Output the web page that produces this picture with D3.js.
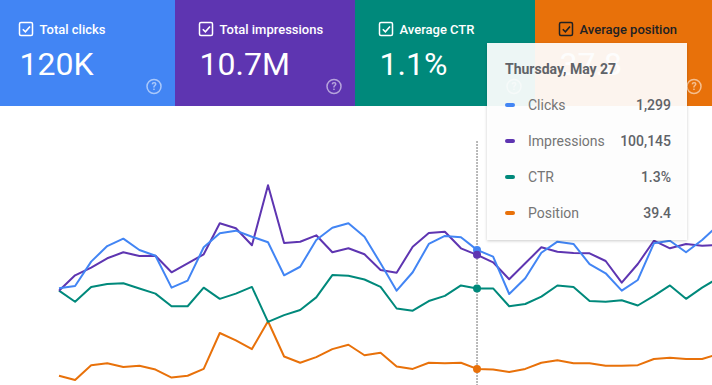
<!DOCTYPE html>
<html>
<head>
<meta charset="utf-8">
<script src="https://cdn.jsdelivr.net/npm/d3@7/dist/d3.min.js"></script>
<style>
  html, body { margin: 0; padding: 0; background: #fff; overflow: hidden; }
  svg { display: block; font-family: Roboto, 'Noto Sans', sans-serif; }
</style>
</head>
<body>
<svg id="chart"></svg>
<script>
const colours = {
  clicks: '#4285f4',
  impressions: '#5e35b1',
  ctr: '#00897b',
  position: '#e8710a',
  tipText: '#5f6368',
  tipLabel: '#757575',
};

const width = 712;
const height = 385;

// summary cards
const cardLabels = ['Total clicks', 'Total impressions', 'Average CTR', 'Average position'];
const cardValues = ['120K', '10.7M', '1.1%', '37.8'];
const cardColours = [colours.clicks, colours.impressions, colours.ctr, colours.position];
const cardLefts = [-5, 175, 355, 535];
const cardWidth = 180;

// daily series, May 1 .. Jun 11
const startDate = new Date(2021, 4, 1);
const clicks = [930, 952, 1186, 1336, 1407, 1298, 1243, 936, 1003, 1324, 1459, 1484, 1426, 1372,
  1055, 1137, 1394, 1512, 1555, 1426, 1170, 907, 1084, 1356, 1433, 1420, 1299, 1234, 875, 1026,
  1272, 1378, 1356, 1163, 1074, 907, 1010, 1362, 1387, 1276, 1394, 1538];
const impressions = [72540, 84380, 90230, 97460, 102070, 99230, 99460, 86690, 93610, 100540,
  124380, 120530, 107460, 153610, 109230, 110230, 115150, 102070, 105150, 100540, 88460, 86380,
  106380, 116920, 117920, 105150, 100145, 94380, 81300, 93610, 105920, 102530, 101530, 101300,
  95380, 78690, 93070, 111000, 105150, 108460, 107150, 107690];
const ctr = [1.27, 1.12, 1.32, 1.36, 1.37, 1.30, 1.23, 1.06, 1.06, 1.31, 1.16, 1.23, 1.32, 0.85,
  0.94, 1.01, 1.18, 1.48, 1.47, 1.42, 1.32, 1.03, 1.00, 1.13, 1.20, 1.34, 1.30, 1.30, 1.06, 1.09,
  1.19, 1.34, 1.32, 1.13, 1.12, 1.14, 1.07, 1.20, 1.34, 1.16, 1.31, 1.44];
const position = [40.5, 41.2, 38.8, 38.5, 39.1, 38.9, 39.5, 40.8, 40.5, 39.4, 33.6, 34.8, 36.2,
  31.7, 37.4, 38.4, 37.5, 36.2, 35.5, 37.2, 36.8, 39.0, 39.4, 38.4, 38.5, 38.4, 39.4, 39.5, 39.9,
  39.4, 38.4, 38.0, 38.5, 38.5, 38.9, 38.9, 38.8, 37.8, 37.6, 37.8, 37.8, 37.0];

const hoverIndex = 26;
const dates = clicks.map((d, i) => d3.timeDay.offset(startDate, i));

const plotTop = 125;
const plotBottom = 385;

const xScale = d3
  .scaleLinear()
  .domain([0, clicks.length - 1])
  .range([59, 718.2]);

const series = [
  { key: 'clicks', name: 'Clicks', values: clicks, colour: colours.clicks,
    y: d3.scaleLinear().domain([0, 2500]).range([plotBottom, plotTop]), fmt: d3.format(',') },
  { key: 'impressions', name: 'Impressions', values: impressions, colour: colours.impressions,
    y: d3.scaleLinear().domain([0, 200000]).range([plotBottom, plotTop]), fmt: d3.format(',') },
  { key: 'ctr', name: 'CTR', values: ctr, colour: colours.ctr,
    y: d3.scaleLinear().domain([0, 3.5]).range([plotBottom, plotTop]), fmt: v => d3.format('.1f')(v) + '%' },
  // position is inverted: better rank sits higher
  { key: 'position', name: 'Position', values: position, colour: colours.position,
    y: d3.scaleLinear().domain([0, 42]).range([plotTop, plotBottom]), fmt: d3.format('.1f') },
];

const sel = d3.select('#chart').attr('width', width).attr('height', height);

const defs = sel.append('defs');
const shadow = defs.append('filter').attr('id', 'shadow')
  .attr('x', '-10%').attr('y', '-10%').attr('width', '120%').attr('height', '120%');
shadow.append('feDropShadow')
  .attr('dx', 0).attr('dy', 1).attr('stdDeviation', 1.5)
  .attr('flood-color', '#000').attr('flood-opacity', 0.22);

// cards
const cards = sel.append('g').selectAll('.card')
  .data(cardLabels)
  .join('g')
  .classed('card', true)
  .attr('transform', (d, i) => `translate(${cardLefts[i]},0)`);

cards.append('rect')
  .attr('width', cardWidth)
  .attr('height', 106)
  .attr('fill', (d, i) => cardColours[i]);

const fg = i => (i === 3 ? '#202124' : '#fff');

cards.append('rect')
  .attr('x', 24.5).attr('y', 22.5)
  .attr('width', 13).attr('height', 13).attr('rx', 1.5)
  .attr('fill', 'none')
  .attr('stroke', (d, i) => fg(i))
  .attr('stroke-width', 1.5);
cards.append('path')
  .attr('d', 'M27.8,29.2 L30.4,31.8 L35,26.4')
  .attr('fill', 'none')
  .attr('stroke', (d, i) => fg(i))
  .attr('stroke-width', 1.6);

cards.append('text')
  .attr('x', 44.5).attr('y', 33.5)
  .attr('font-size', 13)
  .attr('font-weight', 500)
  .attr('fill', (d, i) => fg(i))
  .text(d => d);

cards.append('text')
  .attr('x', 24.5).attr('y', 75)
  .attr('font-size', 32)
  .attr('fill', '#fff')
  .text((d, i) => cardValues[i]);

const help = cards.append('g')
  .attr('transform', `translate(${cardWidth - 21},86.5)`)
  .attr('opacity', 0.55);
help.append('circle').attr('r', 7).attr('fill', 'none').attr('stroke', '#fff').attr('stroke-width', 1.5);
help.append('text')
  .attr('text-anchor', 'middle').attr('y', 3.8)
  .attr('font-size', 10.5).attr('font-weight', 700)
  .attr('fill', '#fff')
  .text('?');

// lines
const lines = sel.append('g');
series.slice().reverse().forEach(s => {
  const line = d3.line()
    .x((d, i) => xScale(i))
    .y(d => s.y(d));
  lines.append('path')
    .datum(s.values)
    .attr('d', line)
    .attr('fill', 'none')
    .attr('stroke', s.colour)
    .attr('stroke-width', 2)
    .attr('stroke-linejoin', 'round');
});

// hover guide
const hx = xScale(hoverIndex);
sel.append('line')
  .attr('x1', hx).attr('x2', hx)
  .attr('y1', 141).attr('y2', height)
  .attr('stroke', '#757575')
  .attr('stroke-width', 1)
  .attr('stroke-dasharray', '2,1');

sel.append('g').selectAll('circle')
  .data(series)
  .join('circle')
  .attr('cx', hx)
  .attr('cy', s => s.y(s.values[hoverIndex]))
  .attr('r', 4)
  .attr('fill', s => s.colour);

// tooltip
const tip = sel.append('g').attr('transform', 'translate(487,43)');
tip.append('rect')
  .attr('width', 200).attr('height', 197)
  .attr('fill', '#fff')
  .attr('fill-opacity', 0.92)
  .attr('filter', 'url(#shadow)');
tip.append('text')
  .attr('x', 18).attr('y', 31)
  .attr('font-size', 14).attr('font-weight', 700)
  .attr('fill', colours.tipText)
  .text(d3.timeFormat('%A, %B %-d')(dates[hoverIndex]));

const rows = tip.selectAll('.row')
  .data(series)
  .join('g')
  .classed('row', true)
  .attr('transform', (d, i) => `translate(0,${62 + i * 36})`);
rows.append('rect')
  .attr('x', 18).attr('y', -2)
  .attr('width', 10).attr('height', 4).attr('rx', 2)
  .attr('fill', s => s.colour);
rows.append('text')
  .attr('x', 41).attr('y', 5)
  .attr('font-size', 14)
  .attr('fill', colours.tipLabel)
  .text(s => s.name);
rows.append('text')
  .attr('x', 184).attr('y', 5)
  .attr('text-anchor', 'end')
  .attr('font-size', 14)
  .attr('font-weight', 500)
  .attr('fill', colours.tipText)
  .text(s => s.fmt(s.values[hoverIndex]));
</script>
</body>
</html>
